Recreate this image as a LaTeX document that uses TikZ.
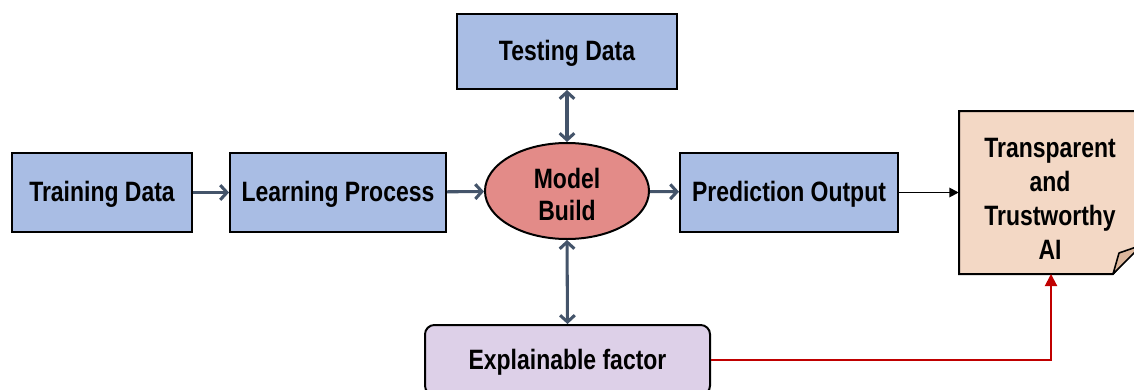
\documentclass[tikz,border=0pt]{standalone}
\usepackage{fontspec}
\setmainfont{Liberation Sans}[FakeStretch=0.82]
\usetikzlibrary{shapes.geometric,arrows.meta,calc}
\definecolor{boxblue}{HTML}{A9BDE4}
\definecolor{modelred}{HTML}{E38B88}
\definecolor{lilac}{HTML}{DDD0E8}
\definecolor{peach}{HTML}{F3D8C5}
\definecolor{foldtan}{HTML}{DDB79C}
\definecolor{slate}{HTML}{44546A}
\definecolor{darkred}{HTML}{C00000}
\tikzset{
  txt/.style={font=\bfseries\fontsize{21}{24}\selectfont, align=center, text=black},
  oneline/.style={text height=14pt, text depth=0pt},
  bluebox/.style={txt, oneline, draw=black, line width=1.5pt, fill=boxblue, rectangle,
    minimum height=59.25pt, inner sep=0pt},
  flow/.style={draw=slate, line width=2.3pt, -{Straight Barb[length=5pt,width=11pt]}},
  flowboth/.style={draw=slate, line width=2.3pt, {Straight Barb[length=5pt,width=11pt]}-{Straight Barb[length=5pt,width=11pt]}},
}
\begin{document}
\begin{tikzpicture}[x=0.75pt, y=-0.75pt]
\useasboundingbox (0,0) rectangle (1134,389);

% process boxes
\node[bluebox, minimum width=135pt] (train) at (102,192.5) {Training Data};
\node[bluebox, minimum width=162pt] (learn) at (338,192.5) {Learning Process};
\node[txt, ellipse, draw=black, line width=1.5pt, fill=modelred,
      text height=43.8pt, text depth=0pt,
      minimum width=123pt, minimum height=72pt, inner sep=0pt] (model) at (567,191) {Model\\Build};
\node[bluebox, minimum width=163.5pt] (pred) at (789,192.5) {Prediction Output};
\node[bluebox, minimum width=165pt, minimum height=56.25pt] (test) at (567,51.5) {Testing Data};
\node[txt, oneline, draw=black, line width=1.5pt, fill=lilac, rounded corners=7pt,
      minimum width=213.75pt, minimum height=52.5pt, inner sep=0pt] (expl) at (567.5,360) {Explainable factor};

% document shape with folded corner
\node[minimum width=135.75pt, minimum height=122.25pt, inner sep=0pt] (ai) at (1049.5,192.5) {};
\draw[line width=1.5pt, fill=peach, line join=miter]
  (959,111) -- (1142,111) -- (1142,240) -- (1113,274) -- (959,274) -- cycle;
\draw[line width=1.2pt, fill=foldtan, line join=round]
  (1113,274) -- (1119,253) -- (1142,245) -- cycle;
\node[txt, font=\bfseries\fontsize{21}{25.5}\selectfont] (aitext) at (1050,198.5)
  {Transparent\\and\\Trustworthy\\AI};

% connectors
\draw[flow] (train) -- (learn);
\draw[flow] (learn) -- (model);
\draw[flow] (model) -- (pred);
\draw[flowboth] (test.south) -- (model.north);
\draw[flowboth] (model.south) -- (expl.north);
\draw[line width=1.4pt, -{Triangle[length=7pt,width=7pt]}] (pred.east) -- (ai.west);
\coordinate (redend) at (1051,274);
\draw[draw=darkred, line width=1.5pt, -{Triangle[length=9pt,width=9pt]}] (expl.east) -| (redend);
\end{tikzpicture}
\end{document}
